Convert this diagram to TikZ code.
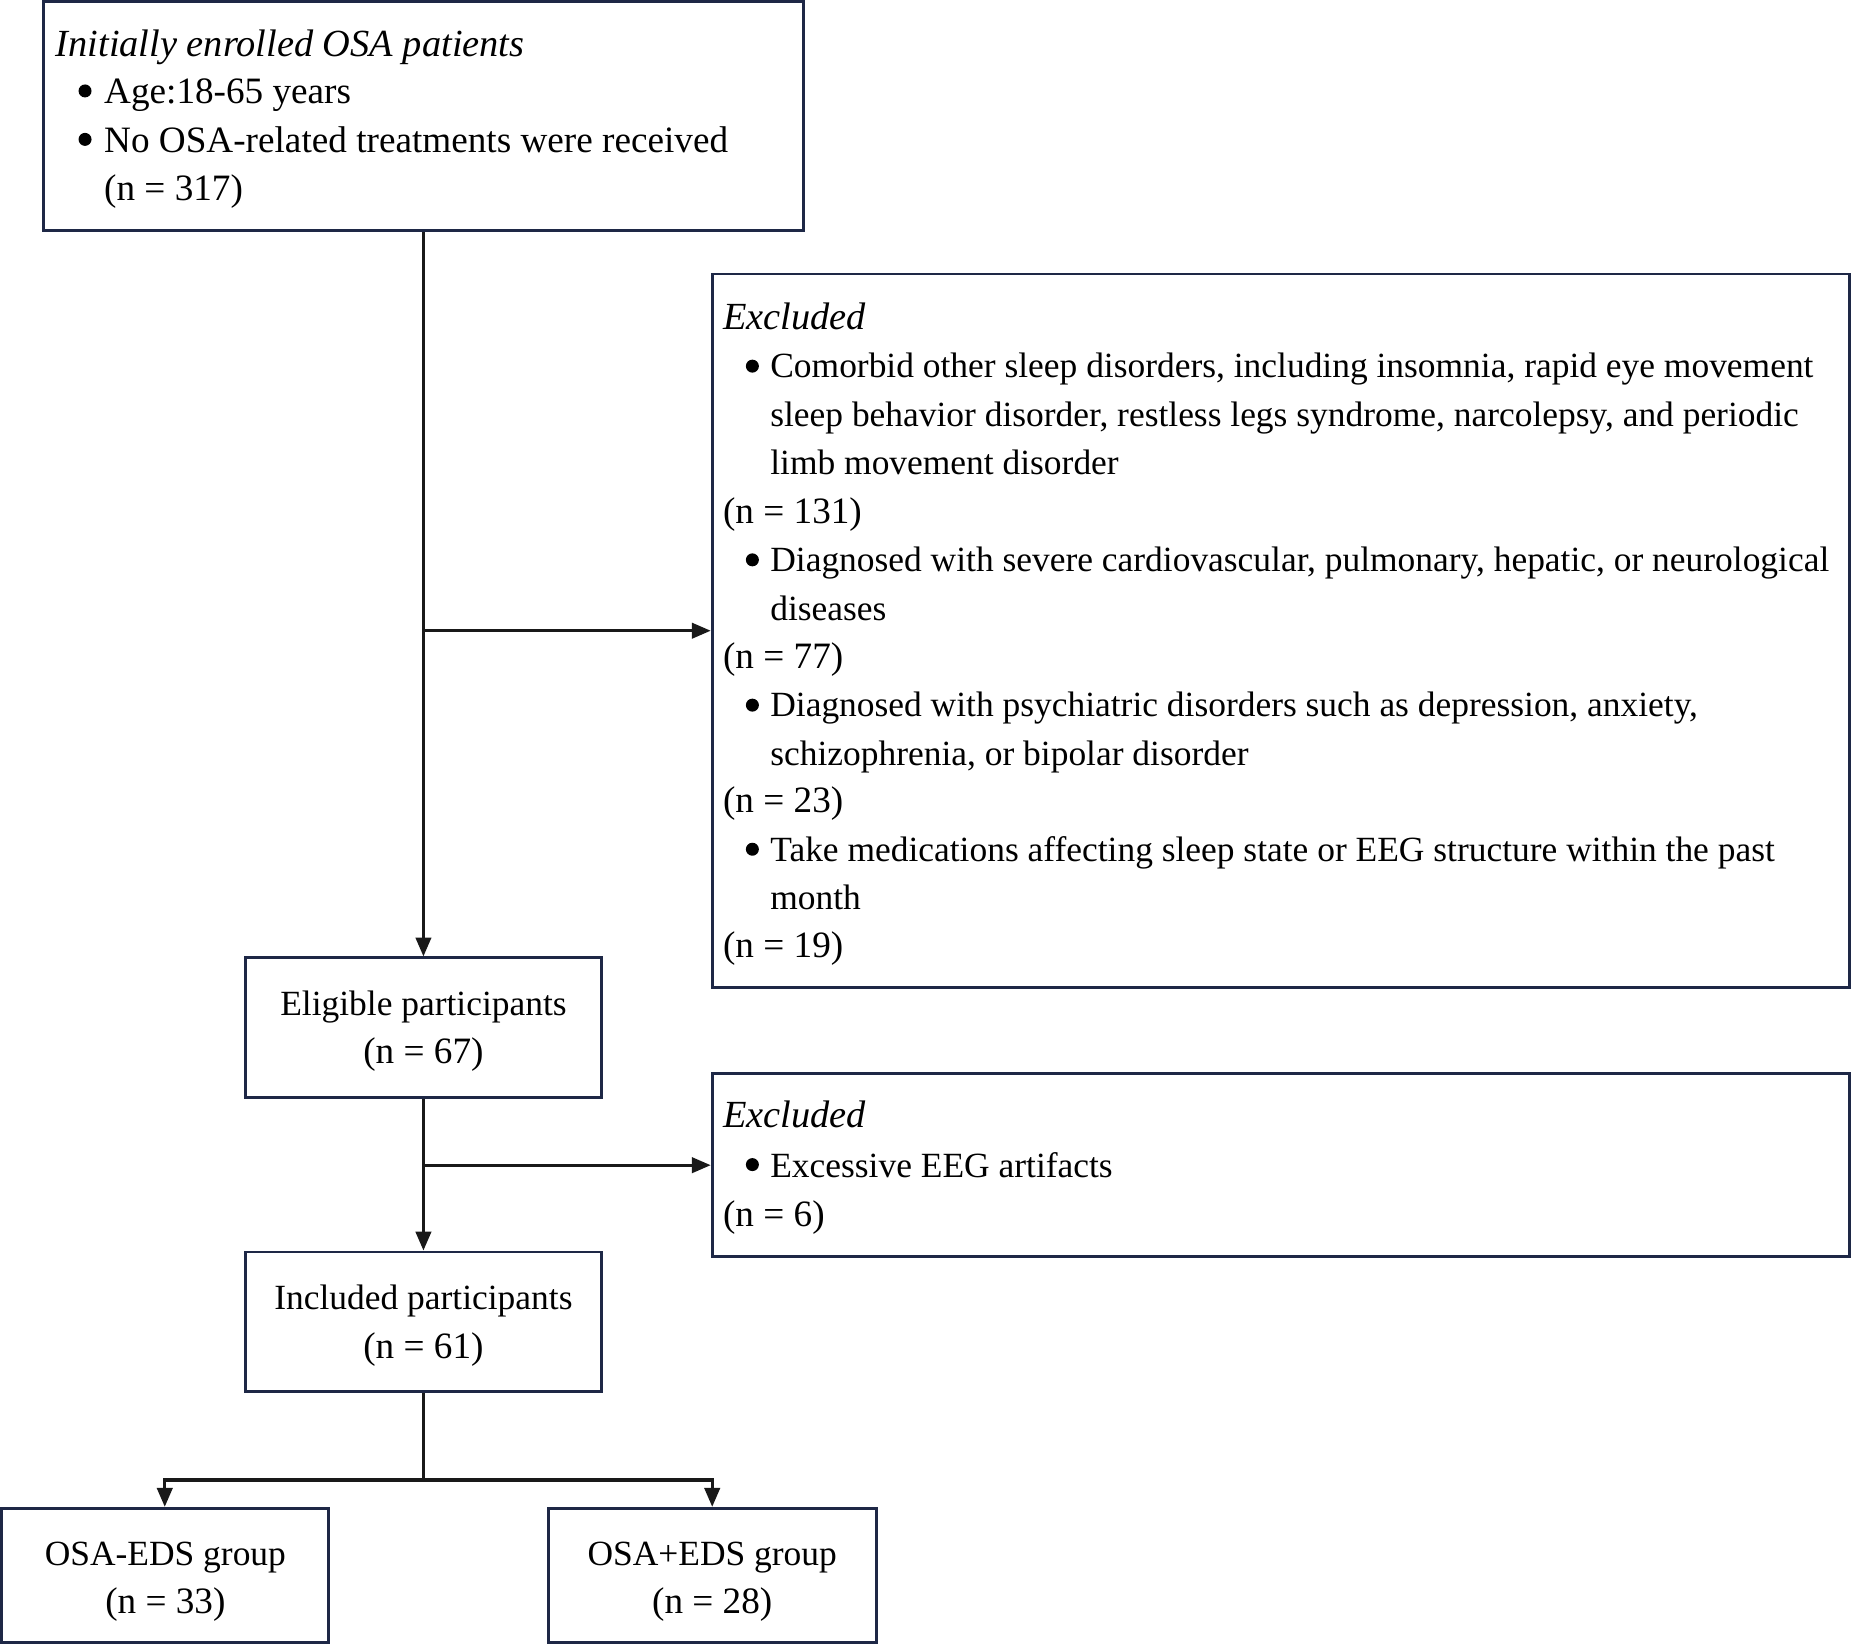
\documentclass[tikz,border=0pt]{standalone}
\usepackage{fontspec}
\setmainfont{Liberation Serif}
\usetikzlibrary{arrows.meta}
\definecolor{boxcol}{RGB}{30,40,70}
\tikzset{
  box/.style={draw=boxcol, line width=2.5pt, fill=white},
  txt/.style={anchor=base west, inner sep=0pt, font=\fontsize{30}{36}\selectfont},
  ntxt/.style={txt, font=\fontsize{31.5}{36}\selectfont},
  ttxt/.style={txt, font=\fontsize{31.5}{36}\selectfont},
  htxt/.style={txt, font=\fontsize{32.5}{36}\selectfont\itshape},
  ctxt/.style={anchor=base, inner sep=0pt, font=\fontsize{30}{36}\selectfont},
  cntxt/.style={ctxt, font=\fontsize{31.5}{36}\selectfont},
  conn/.style={draw=black!90, line width=2.6pt},
  arr/.style={conn, -{Triangle[length=16pt,width=13pt]}},
  dot/.style={fill=black},
}
\newcommand{\bl}[2]{\fill[dot] (#1,#2) circle (5.5pt);}
\begin{document}
\begin{tikzpicture}[x=1pt,y=-1pt]
\useasboundingbox (0,0) rectangle (1568,1394);
% boxes
\node[box, minimum width=643pt, minimum height=194pt] (top) at (358.5,98) {};
\node[box, minimum width=963pt, minimum height=604pt] (ex1) at (1084.5,534) {};
\node[box, minimum width=302pt, minimum height=118pt] (elig) at (358.5,870) {};
\node[box, minimum width=963pt, minimum height=155pt] (ex2) at (1084.5,986.5) {};
\node[box, minimum width=302pt, minimum height=118pt] (incl) at (358.5,1119) {};
\node[box, minimum width=277pt, minimum height=114pt] (g1) at (139.5,1334) {};
\node[box, minimum width=278pt, minimum height=114pt] (g2) at (603,1334) {};
% top box text
\node[htxt] (ta) at (47,48) {Initially enrolled OSA patients};
\bl{72}{77}
\node[ttxt] (tb) at (88,88) {Age:18-65 years};
\bl{72}{118}
\node[ttxt] (tc) at (88,129) {No OSA-related treatments were received};
\node[ntxt] (td) at (88,170) {(n = 317)};
% excluded 1
\node[htxt] (e0) at (612,279) {Excluded};
\bl{637}{310}
\node[txt] (e1) at (652,320) {Comorbid other sleep disorders, including insomnia, rapid eye movement};
\node[txt] (e2) at (652,361) {sleep behavior disorder, restless legs syndrome, narcolepsy, and periodic};
\node[txt] (e3) at (652,402) {limb movement disorder};
\node[ntxt] (e4) at (612,443) {(n = 131)};
\bl{637}{474}
\node[txt] (e5) at (652,484) {Diagnosed with severe cardiovascular, pulmonary, hepatic, or neurological};
\node[txt] (e6) at (652,525) {diseases};
\node[ntxt] (e7) at (612,566) {(n = 77)};
\bl{637}{597}
\node[txt] (e8) at (652,607) {Diagnosed with psychiatric disorders such as depression, anxiety,};
\node[txt] (e9) at (652,648) {schizophrenia, or bipolar disorder};
\node[ntxt] (e10) at (612,688) {(n = 23)};
\bl{637}{719}
\node[txt] (e11) at (652,729) {Take medications affecting sleep state or EEG structure within the past};
\node[txt] (e12) at (652,770) {month};
\node[ntxt] (e13) at (612,811) {(n = 19)};
% excluded 2
\node[htxt] (f0) at (612,955) {Excluded};
\bl{637}{986}
\node[txt] (f1) at (652,997) {Excessive EEG artifacts};
\node[ntxt] (f2) at (612,1038) {(n = 6)};
% centered boxes
\node[ctxt] (l1) at (358.5,860) {Eligible participants};
\node[cntxt] (l2) at (358.5,900) {(n = 67)};
\node[ctxt] (i1) at (358.5,1109) {Included participants};
\node[cntxt] (i2) at (358.5,1150) {(n = 61)};
\node[ctxt] (g1a) at (140,1325) {OSA-EDS group};
\node[cntxt] (g1b) at (140,1366) {(n = 33)};
\node[ctxt] (g2a) at (603,1325) {OSA+EDS group};
\node[cntxt] (g2b) at (603,1366) {(n = 28)};
% connectors
\coordinate (b1) at (358.5,534);
\coordinate (b2) at (358.5,986.5);
\coordinate (b3) at (358.5,1253);
\draw[arr] (top.south) -- (elig.north);
\draw[arr] (b1) -- (ex1.west);
\draw[arr] (elig.south) -- (incl.north);
\draw[arr] (b2) -- (ex2.west);
\draw[conn] (incl.south) -- (b3);
\draw[arr] (b3) -| (g1.north);
\draw[arr] (b3) -| (g2.north);
\end{tikzpicture}
\end{document}
